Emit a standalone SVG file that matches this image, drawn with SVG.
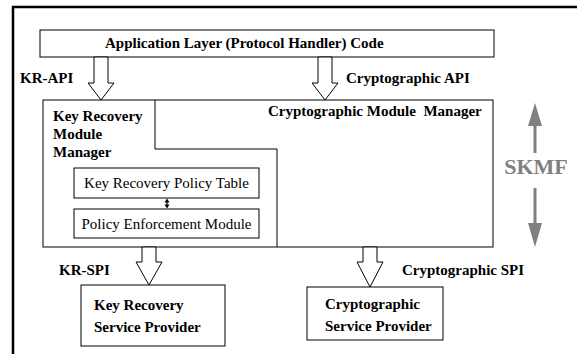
<svg xmlns="http://www.w3.org/2000/svg" width="577" height="354" viewBox="0 0 577 354">
<style>
.b{font-family:"Liberation Serif","Times New Roman",serif;font-size:15px;font-weight:bold;fill:#000}
.n{font-family:"Liberation Serif","Times New Roman",serif;font-size:15px;fill:#000}
.box{fill:#fff;stroke:#000;stroke-width:1}
.blk{fill:#fff;stroke:#000;stroke-width:1}
.frame{stroke:#000;stroke-width:2.5;fill:none}
.g{fill:#808080}
</style>
<path class="frame" d="M577,7 H13 V354"/>
<g id="app"><rect class="box" x="40" y="30" width="454" height="27"/><text class="b" x="105" y="48">Application Layer (Protocol Handler) Code</text></g>
<g id="manager">
<rect class="box" x="43" y="100" width="450" height="147"/>
<path d="M155,100 V149 H277 V247" fill="none" stroke="#000" stroke-width="1"/>
<text class="b" x="53" y="121">Key Recovery</text>
<text class="b" x="53" y="139">Module</text>
<text class="b" x="53" y="157">Manager</text>
<text class="b" x="268" y="116" xml:space="preserve">Cryptographic Module  Manager</text>
</g>
<g id="policytable"><rect class="box" x="74" y="168" width="185" height="30"/><text class="n" x="166.5" y="188" text-anchor="middle">Key Recovery Policy Table</text></g>
<g id="enforcement"><rect class="box" x="74" y="209" width="185" height="29"/><text class="n" x="166.5" y="229" text-anchor="middle">Policy Enforcement Module</text></g>
<g id="krsp"><rect class="box" x="81" y="285" width="144" height="61"/><text class="b" x="94" y="310">Key Recovery</text><text class="b" x="94" y="332">Service Provider</text></g>
<g id="csp"><rect class="box" x="307" y="287" width="136" height="53"/><text class="b" x="325" y="309">Cryptographic</text><text class="b" x="325" y="331">Service Provider</text></g>
<g id="skmf">
<text x="536" y="174" text-anchor="middle" style="font-family:'Liberation Serif','Times New Roman',serif;font-size:22px;font-weight:bold;fill:#808080">SKMF</text>
<rect class="g" x="533.5" y="122" width="3" height="31"/>
<polygon class="g" points="528,126 535,103 542,126"/>
<rect class="g" x="533.5" y="188" width="3" height="36"/>
<polygon class="g" points="528,223 535,247 542,223"/>
</g>
<g id="connectors">
<polygon class="blk" points="94,57 108,57 108,83 114,83 101,100 88,83 94,83"/>
<polygon class="blk" points="318,57 332,57 332,83 338,83 325,100 312,83 318,83"/>
<polygon class="blk" points="142,247 156,247 156,262 162,262 149,285 136,262 142,262"/>
<polygon class="blk" points="363,247 377,247 377,262 383,262 370,287 357,262 363,262"/>
<line x1="167" y1="201" x2="167" y2="206" stroke="#000" stroke-width="1.2"/>
<polygon points="164.5,202.5 167,198.5 169.5,202.5" fill="#000"/>
<polygon points="164.5,204.5 167,208.5 169.5,204.5" fill="#000"/>
<text class="b" x="20" y="83">KR-API</text>
<text class="b" x="346" y="83">Cryptographic API</text>
<text class="b" x="59" y="275">KR-SPI</text>
<text class="b" x="402" y="275">Cryptographic SPI</text>
</g>
</svg>
